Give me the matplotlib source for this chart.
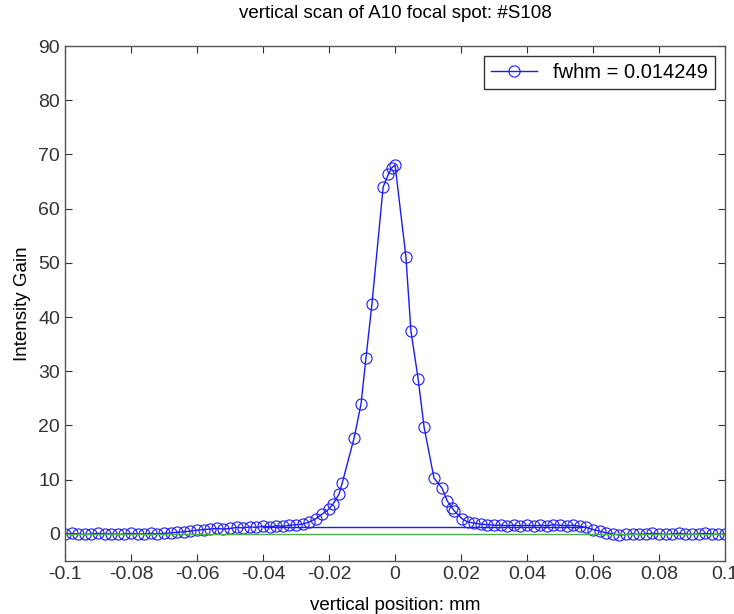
import matplotlib
matplotlib.use("Agg")
import matplotlib.pyplot as plt

plt.rcParams['font.family'] = ['Liberation Sans Narrow', 'Liberation Sans', 'DejaVu Sans']
plt.rcParams['xtick.direction'] = 'in'
plt.rcParams['ytick.direction'] = 'in'

# scan positions (mm) and intensity gain
pos_mm = [
    -0.100, -0.098, -0.096, -0.094, -0.092, -0.090, -0.088, -0.086, -0.084, -0.082,
    -0.080, -0.078, -0.076, -0.074, -0.072, -0.070, -0.068, -0.066, -0.064, -0.062,
    -0.060, -0.058, -0.056, -0.054, -0.052, -0.050, -0.048, -0.046, -0.044, -0.042,
    -0.040, -0.038, -0.036, -0.034, -0.032, -0.030, -0.028, -0.026, -0.024, -0.022,
    -0.020, -0.0188, -0.017, -0.016, -0.0124, -0.0103, -0.0088, -0.0070, -0.0036,
    -0.0020, -0.0010, 0.0000, 0.0033, 0.0048, 0.0070, 0.0088, 0.0118, 0.0142,
    0.0158, 0.0173, 0.0180, 0.0203, 0.0220, 0.0240, 0.026, 0.028, 0.030, 0.032,
    0.034, 0.036, 0.038, 0.040, 0.042, 0.044, 0.046, 0.048, 0.050, 0.052, 0.054,
    0.056, 0.058, 0.060, 0.062, 0.064, 0.066, 0.068, 0.070, 0.072, 0.074, 0.076,
    0.078, 0.080, 0.082, 0.084, 0.086, 0.088, 0.090, 0.092, 0.094, 0.096, 0.098,
    0.100,
]
gain = [
    0.0, 0.1, 0.0, -0.1, 0.0, 0.1, 0.0, 0.0, -0.1, 0.0,
    0.1, 0.0, 0.0, 0.1, 0.0, 0.1, 0.2, 0.3, 0.4, 0.5,
    0.7, 0.8, 0.9, 1.0, 0.9, 1.0, 1.2, 1.1, 1.3, 1.2,
    1.4, 1.3, 1.5, 1.4, 1.6, 1.7, 1.8, 2.2, 2.8, 3.7,
    4.6, 5.5, 7.3, 9.4, 17.7, 24.0, 32.5, 42.4, 64.0,
    66.4, 67.5, 68.1, 51.1, 37.5, 28.6, 19.7, 10.3, 8.5,
    6.1, 4.8, 4.2, 2.8, 2.2, 2.0, 1.8, 1.7, 1.6, 1.6,
    1.5, 1.6, 1.5, 1.6, 1.5, 1.6, 1.5, 1.7, 1.6, 1.5, 1.6,
    1.4, 1.2, 0.8, 0.5, 0.2, 0.0, -0.2, -0.1, 0.0, -0.1, 0.0,
    0.1, 0.0, -0.1, 0.0, 0.1, 0.0, -0.1, 0.0, 0.1, 0.0, -0.1,
    0.0,
]

# background level line and zero line
bg_x = [-0.040, 0.058]
bg_y = [1.2, 1.2]
zero_x = [-0.1, 0.1]
zero_y = [0.0, 0.0]

fwhm = 0.014249

fig = plt.figure(figsize=(7.34, 6.14), dpi=100)
ax = fig.add_axes([0.0886, 0.0863, 0.8992, 0.8387])

ax.plot(pos_mm, gain, color='#1a1aff', marker='o', markerfacecolor='none',
        markeredgecolor='#1a1aff', markersize=8, markeredgewidth=0.8, linewidth=1.0,
        label=f'fwhm = {fwhm}')
ax.plot(bg_x, bg_y, color='#1a1aff', linewidth=1.0)
ax.plot(zero_x, zero_y, color='#4caf4c', linewidth=1.0)

ax.set_xlim(-0.1, 0.1)
ax.set_ylim(-5, 90)
ax.set_xticks([-0.1, -0.08, -0.06, -0.04, -0.02, 0, 0.02, 0.04, 0.06, 0.08, 0.1])
ax.set_xticklabels(['-0.1', '-0.08', '-0.06', '-0.04', '-0.02', '0', '0.02',
                    '0.04', '0.06', '0.08', '0.1'])
ax.set_yticks(range(0, 91, 10))
ax.tick_params(axis='both', labelsize=14, length=5, width=0.8,
               top=True, right=True, colors='#333333')
for sp in ax.spines.values():
    sp.set_color('#555555')
    sp.set_linewidth(1.0)

ax.set_title('vertical scan of A10 focal spot: #S108', fontsize=13.5, pad=20)
ax.set_xlabel('vertical position: mm', fontsize=13.5, labelpad=10)
ax.set_ylabel('Intensity Gain', fontsize=13.5, labelpad=5)

leg = ax.legend(loc='upper right', fontsize=14.5, fancybox=False, framealpha=1,
                edgecolor='#333333', handlelength=2.3, borderaxespad=0.5,
                borderpad=0.35)
leg.get_frame().set_linewidth(1.0)

fig.savefig('out.png', dpi=100)
